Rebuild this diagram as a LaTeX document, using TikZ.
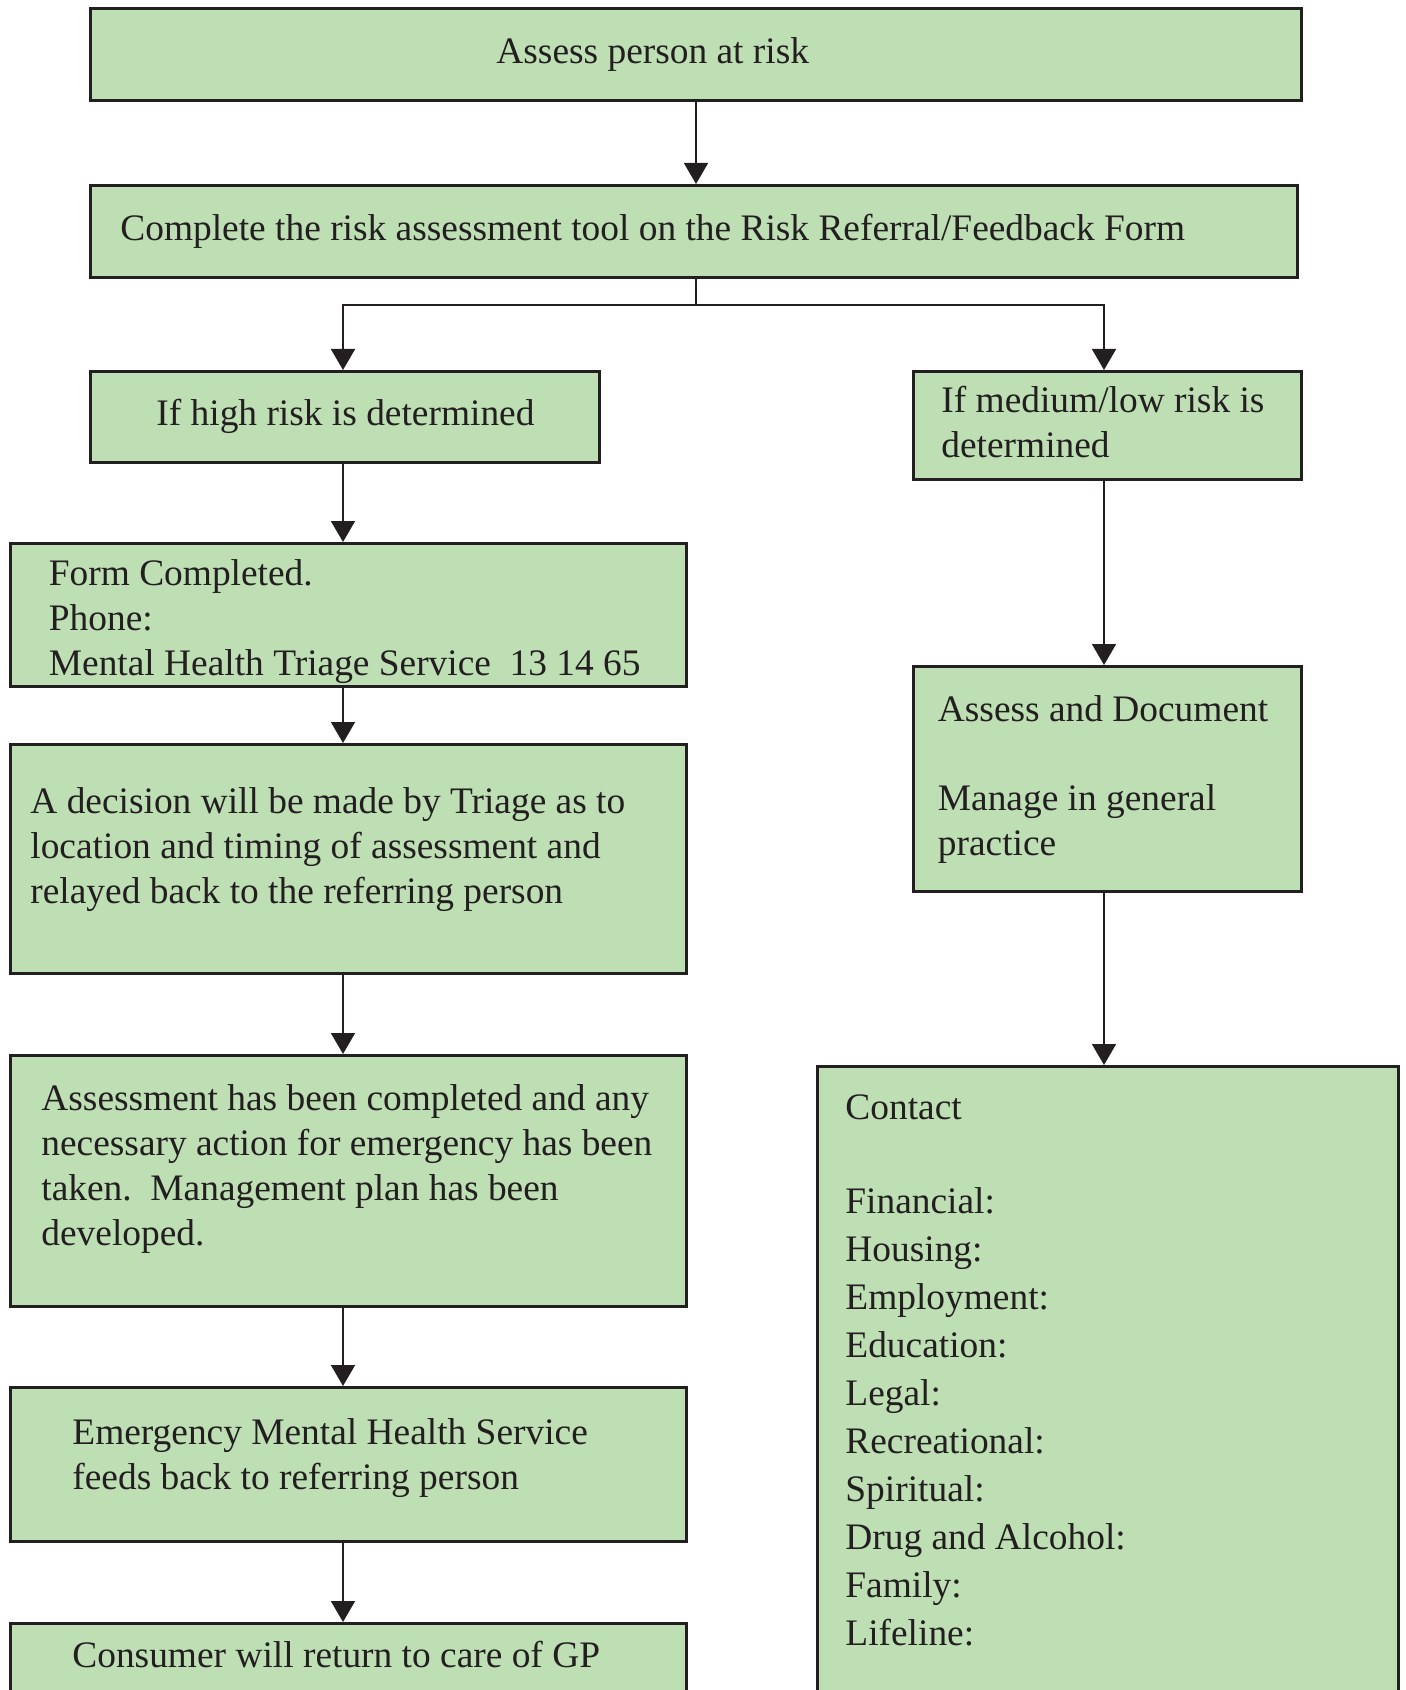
\documentclass[tikz,border=0pt]{standalone}
\usepackage{fontspec}
\setmainfont{Liberation Serif}
\usepackage{tikz}
\usetikzlibrary{arrows.meta,positioning}
\definecolor{boxgreen}{RGB}{190,222,180}
\definecolor{edgegray}{RGB}{35,31,32}

\begin{document}
\begin{tikzpicture}[
  x=0.5pt, y=-0.5pt,
  box/.style={draw=edgegray, line width=1.35pt, fill=boxgreen, anchor=north west, inner sep=0pt},
  txt/.style={anchor=north west, inner sep=0pt, align=left, text=edgegray,
    font=\fontsize{18.7}{22.5}\selectfont, execute at begin node=\strut},
  arr/.style={draw=edgegray, line width=0.85pt, -{Triangle[length=10.5pt,width=12pt]}},
  ln/.style={draw=edgegray, line width=0.85pt}
]
\useasboundingbox (0,0) rectangle (1405,1690);
\clip (0,0) rectangle (1405,1690);

\node[box, minimum width=605.5pt, minimum height=45.75pt] (assess) at (89,7.5) {};
\node[box, minimum width=603.5pt, minimum height=46pt] (tool) at (89,184) {};
\node[box, minimum width=254.5pt, minimum height=45.5pt] (high) at (89,370) {};
\node[box, minimum width=194pt, minimum height=54pt] (med) at (912,370) {};
\node[box, minimum width=338pt, minimum height=71.5pt] (form) at (9,542) {};
\node[box, minimum width=338pt, minimum height=114.5pt] (triage) at (9,743) {};
\node[box, minimum width=338pt, minimum height=125.5pt] (done) at (9,1054) {};
\node[box, minimum width=338pt, minimum height=77pt] (feed) at (9,1386) {};
\node[box, minimum width=338pt, minimum height=60pt] (gp) at (9,1622) {};
\node[box, minimum width=194pt, minimum height=112.5pt] (doc) at (912,665) {};
\node[box, minimum width=290.5pt, minimum height=350pt] (contact) at (816,1065) {};

\node[txt] (tassess) at ([shift={(407,24)}]assess.north west) {Assess person at risk};
\node[txt] (ttool) at ([shift={(31,24.5)}]tool.north west) {Complete the risk assessment tool on the Risk Referral/Feedback Form};
\node[txt] (thigh) at ([shift={(67,24)}]high.north west) {If high risk is determined};
\node[txt] (tmed) at ([shift={(29,15.5)}]med.north west) {If medium/low risk is\\determined};
\node[txt] (tform) at ([shift={(39.5,17)}]form.north west) {Form Completed.\\Phone:\\Mental Health Triage Service\ \ 13 14 65};
\node[txt] (ttriage) at ([shift={(21,44.5)}]triage.north west) {A decision will be made by Triage as to\\location and timing of assessment and\\relayed back to the referring person};
\node[txt] (tdone) at ([shift={(32,30)}]done.north west) {Assessment has been completed and any\\necessary action for emergency has been\\taken.\ \ Management plan has been\\developed.};
\node[txt] (tfeed) at ([shift={(63,32)}]feed.north west) {Emergency Mental Health Service\\feeds back to referring person};
\node[txt] (tgp) at ([shift={(63,13.5)}]gp.north west) {Consumer will return to care of GP};
\node[txt] (tdoc) at ([shift={(25.5,30)}]doc.north west) {Assess and Document\\[22pt]Manage in general\\practice};
\node[txt, font=\fontsize{18.7}{24}\selectfont] (tcontact) at ([shift={(29,29.5)}]contact.north west) {Contact\\[23pt]Financial:\\Housing:\\Employment:\\Education:\\Legal:\\Recreational:\\Spiritual:\\Drug and Alcohol:\\Family:\\Lifeline:};

\coordinate (split) at (696,305);
\coordinate (lcol) at (343,0);
\coordinate (rcol) at (1104,0);
\draw[arr] (assess.south -| split) -- (tool.north -| split);
\draw[ln] (split |- tool.south) -- (split);
\draw[arr] (split) -| (lcol |- high.north);
\draw[arr] (split) -| (rcol |- med.north);
\foreach \a/\b in {high/form, form/triage, triage/done, done/feed, feed/gp}
  \draw[arr] (lcol |- \a.south) -- (lcol |- \b.north);
\draw[arr] (rcol |- med.south) -- (rcol |- doc.north);
\draw[arr] (rcol |- doc.south) -- (rcol |- contact.north);
\end{tikzpicture}
\end{document}
